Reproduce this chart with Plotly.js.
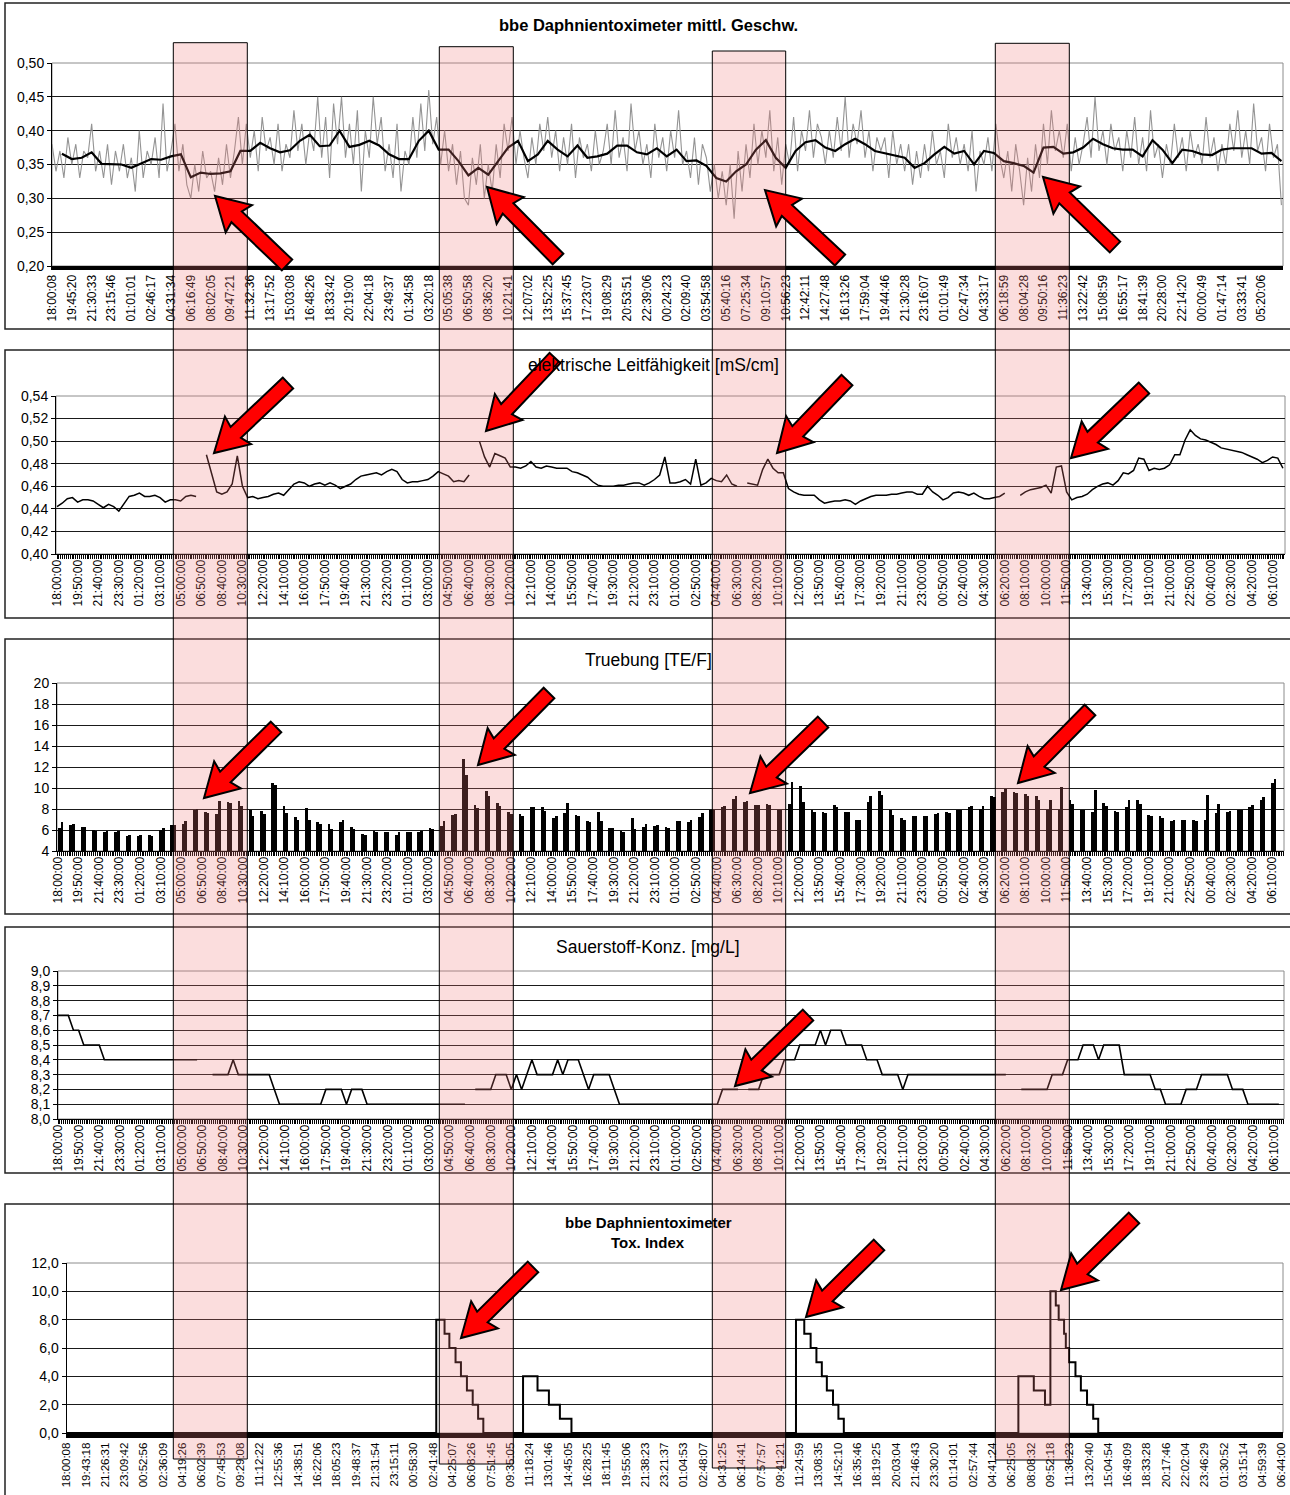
<!DOCTYPE html>
<html><head><meta charset="utf-8">
<script src="https://cdn.plot.ly/plotly-3.0.1.min.js"></script>
<style>html,body{margin:0;padding:0;background:#fff}#chart{width:1290px;height:1495px}</style>
</head><body><div id="chart"></div>
<script>
const W=1290,H=1495;
const FONT='Liberation Sans, Arial, sans-serif';

// ---- tick labels ----
const ticks1=["18:00:08","19:45:20","21:30:33","23:15:46","01:01:01","02:46:17","04:31:34","06:16:49","08:02:05","09:47:21","11:32:36","13:17:52","15:03:08","16:48:26","18:33:42","20:19:00","22:04:18","23:49:37","01:34:58","03:20:18","05:05:38","06:50:58","08:36:20","10:21:41","12:07:02","13:52:25","15:37:45","17:23:07","19:08:29","20:53:51","22:39:06","00:24:23","02:09:40","03:54:58","05:40:16","07:25:34","09:10:57","10:56:23","12:42:11","14:27:48","16:13:26","17:59:04","19:44:46","21:30:28","23:16:07","01:01:49","02:47:34","04:33:17","06:18:59","08:04:28","09:50:16","11:36:23","13:22:42","15:08:59","16:55:17","18:41:39","20:28:00","22:14:20","00:00:49","01:47:14","03:33:41","05:20:06"];
const ticks2=["18:00:00","19:50:00","21:40:00","23:30:00","01:20:00","03:10:00","05:00:00","06:50:00","08:40:00","10:30:00","12:20:00","14:10:00","16:00:00","17:50:00","19:40:00","21:30:00","23:20:00","01:10:00","03:00:00","04:50:00","06:40:00","08:30:00","10:20:00","12:10:00","14:00:00","15:50:00","17:40:00","19:30:00","21:20:00","23:10:00","01:00:00","02:50:00","04:40:00","06:30:00","08:20:00","10:10:00","12:00:00","13:50:00","15:40:00","17:30:00","19:20:00","21:10:00","23:00:00","00:50:00","02:40:00","04:30:00","06:20:00","08:10:00","10:00:00","11:50:00","13:40:00","15:30:00","17:20:00","19:10:00","21:00:00","22:50:00","00:40:00","02:30:00","04:20:00","06:10:00"];
const ticks5=["18:00:08","19:43:18","21:26:31","23:09:42","00:52:56","02:36:09","04:19:26","06:02:39","07:45:53","09:29:08","11:12:22","12:55:36","14:38:51","16:22:06","18:05:23","19:48:37","21:31:54","23:15:11","00:58:30","02:41:48","04:25:07","06:08:26","07:51:45","09:35:05","11:18:24","13:01:46","14:45:05","16:28:25","18:11:45","19:55:06","21:38:23","23:21:37","01:04:53","02:48:07","04:31:25","06:14:41","07:57:57","09:41:21","11:24:59","13:08:35","14:52:10","16:35:46","18:19:25","20:03:04","21:46:43","23:30:20","01:14:01","02:57:44","04:41:24","06:25:05","08:08:32","09:52:18","11:36:23","13:20:40","15:04:54","16:49:09","18:33:28","20:17:46","22:02:04","23:46:29","01:30:52","03:15:14","04:59:39","06:44:00"];

// ---- panel 1: mean speed, raw (5 samples per tick label) ----
const speedRaw=[
.38,.34,.37,.33,.39, .35,.38,.33,.37,.36, .41,.34,.37,.33,.38, .32,.37,.34,.38,.33, .36,.31,.40,.33,.37,
.35,.39,.33,.44,.34, .37,.41,.34,.38,.32, .30,.35,.31,.37,.33, .34,.31,.36,.32,.38, .33,.37,.42,.35,.41,
.36,.40,.34,.42,.37, .39,.35,.41,.34,.38, .36,.43,.37,.41,.35, .40,.37,.45,.36,.42, .33,.44,.38,.45,.36,
.41,.35,.43,.31,.40, .36,.45,.38,.42,.34, .38,.33,.41,.31,.37, .35,.42,.36,.44,.37, .46,.38,.42,.35,.40,
.34,.38,.32,.37,.30, .29,.36,.32,.38,.30, .35,.31,.38,.33,.41, .37,.42,.35,.40,.36, .33,.39,.35,.41,.37,
.42,.36,.40,.34,.39, .35,.41,.33,.39,.36, .38,.34,.40,.35,.37, .41,.35,.43,.36,.39, .34,.44,.37,.40,.35,
.38,.33,.41,.36,.39, .34,.40,.36,.43,.35, .37,.33,.39,.32,.38, .36,.31,.35,.30,.34, .29,.35,.27,.37,.31,
.38,.33,.41,.35,.40, .36,.43,.34,.39,.32, .38,.35,.42,.34,.40, .37,.43,.36,.41,.39, .35,.40,.36,.42,.37,
.45,.36,.41,.38,.43, .36,.40,.34,.39,.37, .39,.33,.40,.35,.38, .34,.38,.32,.37,.33, .38,.34,.40,.35,.37,
.33,.41,.36,.39,.35, .38,.34,.40,.31,.37, .35,.39,.34,.41,.36, .33,.37,.31,.38,.34, .29,.36,.31,.38,.33,
.41,.35,.43,.37,.40, .36,.41,.34,.39,.35, .38,.42,.36,.45,.37, .40,.35,.41,.37,.39, .34,.40,.36,.42,.35,
.39,.34,.43,.36,.38, .33,.38,.35,.41,.36, .39,.34,.40,.36,.38, .35,.42,.36,.39,.34, .38,.35,.41,.37,.43,
.36,.40,.35,.44,.37, .39,.34,.41,.36,.38, .29];
// moving average, every half label starting at the first half label
const speedAvg=[
.366,.358,.360,.368,.351,.351,.350,.345,.352,.358,
.357,.362,.365,.331,.338,.336,.337,.340,.370,.370,
.382,.374,.368,.371,.385,.394,.377,.378,.400,.376,
.379,.385,.378,.365,.358,.358,.385,.400,.372,.372,
.355,.334,.345,.335,.355,.375,.385,.355,.365,.385,
.372,.362,.378,.360,.362,.366,.378,.378,.368,.365,
.374,.362,.372,.355,.356,.348,.330,.325,.340,.350,
.372,.386,.360,.345,.370,.383,.386,.375,.370,.380,
.388,.380,.370,.367,.364,.360,.345,.352,.365,.376,
.366,.370,.350,.370,.367,.355,.352,.348,.338,.375,
.376,.366,.368,.375,.388,.380,.374,.372,.372,.362,
.386,.372,.352,.372,.370,.365,.364,.372,.374,.374,
.374,.366,.367,.355];

// ---- panel 2: conductivity (4 samples per tick label) ----
const cond=[
.442,.445,.449,.450,.446,.448,.448,.447,
.444,.441,.444,.442,.438,.444,.451,.452,
.454,.451,.451,.452,.450,.446,.448,.448,
.447,.451,.452,.451,null,.488,.472,.455,
.453,.455,.462,.487,.460,.450,.451,.449,
.450,.451,.453,.454,.452,.457,.462,.464,
.463,.460,.462,.463,.461,.463,.461,.458,
.460,.462,.466,.469,.470,.471,.472,.470,
.473,.475,.473,.466,.463,.464,.464,.465,
.466,.469,.473,.471,.469,.464,.465,.464,
.470,null,.500,.486,.477,.489,.487,.485,
.477,.477,.476,.478,.482,.477,.476,.478,
.477,.476,.476,.476,.473,.472,.470,.468,
.464,.461,.460,.460,.460,.461,.461,.462,
.463,.463,.461,.463,.466,.470,.486,.463,
.463,.464,.466,.462,.484,.461,.463,.467,
.465,.464,.470,.462,.460,null,.463,.462,
.461,.475,.484,.476,.472,.472,.458,.455,
.453,.452,.452,.452,.448,.445,.446,.447,
.447,.448,.447,.444,.447,.449,.451,.452,
.452,.452,.453,.453,.454,.455,.455,.453,
.453,.460,.455,.452,.448,.450,.454,.455,
.454,.452,.454,.451,.449,.449,.450,.451,
.454,null,null,.452,.455,.457,.458,.459,
.461,.454,.477,.478,.455,.448,.450,.451,
.453,.457,.460,.462,.463,.461,.465,.472,
.471,.474,.485,.484,.474,.476,.475,.476,
.479,.488,.488,.501,.510,.505,.502,.501,
.499,.497,.494,.493,.492,.491,.490,.488,
.486,.484,.481,.483,.486,.485,.476];

// ---- panel 3: turbidity, hourly pairs of readings ----
const turbA=[6.2,6.5,6.3,6.0,5.8,5.8,5.4,5.4,5.5,6.0, 6.5,6.6,7.9,7.7,7.5,8.7,8.8,7.9,7.8,10.5,
8.3,7.2,8.1,6.8,6.6,6.8,6.3,5.6,5.9,5.8, 5.5,5.8,5.8,6.2,6.4,7.4,12.8,8.4,9.7,8.6,
7.7,7.5,8.2,8.2,7.1,7.6,7.4,6.9,7.7,6.2, 5.9,7.1,6.3,6.4,6.3,6.9,6.8,7.2,7.9,8.2,
9.0,8.7,8.4,8.5,7.9,8.5,10.2,7.9,7.7,8.4, 7.7,7.0,8.7,9.7,7.9,7.1,7.3,7.3,7.5,7.7,
7.9,8.2,8.0,9.2,9.6,9.6,9.4,9.2,7.9,7.9, 8.9,7.9,7.7,8.6,7.8,8.2,8.9,7.4,7.3,6.9,
7.0,7.0,7.0,7.6,7.7,7.9,8.2,8.9,10.5];
const turbB=[6.8,6.6,6.3,5.9,5.9,5.9,5.5,5.5,5.4,6.2, 6.5,6.9,8.0,7.6,8.8,8.6,8.3,7.3,7.5,10.3,
7.6,7.0,7.0,6.6,6.1,7.0,6.1,5.5,5.8,5.8, 5.8,5.8,5.9,6.1,6.9,7.5,11.2,8.1,9.2,8.3,
7.5,7.3,8.2,7.8,7.3,8.6,7.3,6.8,6.9,6.2, 5.8,6.1,6.6,6.5,6.2,6.9,7.0,7.6,7.9,8.3,
9.2,8.8,8.4,8.4,7.9,10.6,8.7,7.7,7.6,8.2, 7.7,7.0,9.2,9.3,7.4,7.0,7.3,7.3,7.6,7.6,
7.9,8.3,8.3,9.1,9.9,9.5,9.2,8.9,8.9,10.1, 8.5,7.9,9.8,8.3,7.7,8.9,8.5,7.3,7.1,7.0,
7.0,6.9,9.3,8.5,7.8,7.9,8.4,9.1,10.9];

// ---- panel 4: oxygen (4 samples per tick label) ----
const oxy=[
8.7,8.7,8.7,8.6,8.6,8.5,8.5,8.5,8.5,
8.4,8.4,8.4,8.4,8.4,8.4,8.4,8.4,8.4,8.4,8.4,8.4,8.4,8.4,8.4,8.4,8.4,8.4,8.4,
null,null,8.3,8.3,8.3,8.3,8.4,8.3,8.3,8.3,8.3,8.3,8.3,8.3,8.2,
8.1,8.1,8.1,8.1,8.1,8.1,8.1,8.1,8.1,8.2,8.2,8.2,8.2,8.1,8.2,8.2,8.2,
8.1,8.1,8.1,8.1,8.1,8.1,8.1,8.1,8.1,8.1,8.1,8.1,8.1,8.1,8.1,8.1,8.1,8.1,8.1,8.1,
null,8.2,8.2,8.2,8.2,8.3,8.3,8.3,8.2,8.3,8.2,8.3,8.4,8.3,8.3,8.3,8.3,8.4,8.3,8.4,8.4,8.4,8.3,8.2,
8.3,8.3,8.3,8.3,8.2,
8.1,8.1,8.1,8.1,8.1,8.1,8.1,8.1,8.1,8.1,8.1,8.1,8.1,8.1,8.1,8.1,8.1,8.1,8.1,8.1,
8.2,8.2,8.2,8.2,null,8.2,8.2,8.2,8.3,8.3,8.3,8.3,8.4,8.4,8.4,8.5,8.5,8.5,8.5,8.6,8.5,8.6,8.6,8.6,
8.5,8.5,8.5,8.5,8.4,8.4,8.4,8.3,8.3,8.3,8.3,8.2,
8.3,8.3,8.3,8.3,8.3,8.3,8.3,8.3,8.3,8.3,8.3,8.3,8.3,8.3,8.3,8.3,8.3,8.3,8.3,8.3,
null,null,8.2,8.2,8.2,8.2,8.2,8.2,8.3,8.3,8.3,8.4,8.4,8.4,8.5,8.5,8.5,8.4,8.5,8.5,8.5,8.5,
8.3,8.3,8.3,8.3,8.3,8.3,8.2,8.2,8.1,8.1,8.1,8.1,8.2,8.2,8.2,8.3,8.3,8.3,8.3,8.3,8.3,
8.2,8.2,8.2,8.1,8.1,8.1,8.1,8.1,8.1,8.1];

// ---- panel 5: tox index, step changes (time in tick-label units) ----
const toxT=[0,19.17,19.6,19.85,20.17,20.45,20.76,21.06,21.34,21.61,23.67,24.42,25.01,25.58,26.18,
37.82,38.25,38.58,38.88,39.16,39.42,39.74,40.02,40.30,
49.35,50.15,50.73,51.01,51.29,51.44,51.72,51.81,51.98,52.31,52.59,52.91,53.23,53.49,63.1];
const toxV=[0,8,7,6,5,4,3,2,1,0,4,3,2,1,0, 8,7,6,5,4,3,2,1,0, 4,3,2,10,9,8,7,6,5,4,3,2,1,0,0];

// ---------- helpers ----------
const PX=x=>x/W, PY=y=>1-y/H;
const xd=(l,r)=>[PX(l),PX(r)];
const yd=(t,b)=>[PY(b),PY(t)];
const idx=(arr,step,off)=>arr.map((_,i)=>(off||0)+i*step);

const turbX=[],turbY=[];
turbA.forEach((v,k)=>{turbX.push(0.08+k*6/11);turbY.push(v);turbX.push(0.08+k*6/11+0.13);turbY.push(turbB[k]);});

const traces=[
 {x:idx(speedRaw,0.2),y:speedRaw,xaxis:'x',yaxis:'y',mode:'lines',line:{color:'#949494',width:1.1}},
 {x:idx(speedAvg,0.5,0.5),y:speedAvg,xaxis:'x',yaxis:'y',mode:'lines',line:{color:'#000',width:2.2}},
 {x:idx(cond,0.25),y:cond,xaxis:'x2',yaxis:'y2',mode:'lines',line:{color:'#000',width:1.5}},
 {type:'bar',x:turbX,y:turbY,width:0.13,xaxis:'x3',yaxis:'y3',marker:{color:'#000',line:{width:0}}},
 {x:idx(oxy,0.25),y:oxy,xaxis:'x4',yaxis:'y4',mode:'lines',line:{color:'#000',width:1.6}},
 {x:toxT,y:toxV,xaxis:'x5',yaxis:'y5',mode:'lines',line:{color:'#000',width:2,shape:'hv'}}
];

function xax(dom,labels,range,anchor,opts){
  return Object.assign({domain:dom,anchor:anchor,range:range,tickmode:'array',
    tickvals:labels.map((_,i)=>i),ticktext:labels,tickangle:-90,
    tickfont:{family:FONT,size:12,color:'#000'},showgrid:false,zeroline:false,
    showline:true,linecolor:'#000',linewidth:1,ticks:'',automargin:false,fixedrange:true},opts||{});
}
function yax(dom,range,dtick,fmt,anchor){
  return {domain:dom,anchor:anchor,range:range,dtick:dtick,tick0:range[0],tickformat:fmt,
    showgrid:true,gridcolor:'#1a1a1a',gridwidth:1,zeroline:false,showline:true,linecolor:'#000',
    linewidth:1,ticks:'outside',ticklen:4,tickcolor:'#000',
    tickfont:{family:FONT,size:14,color:'#000'},automargin:false,fixedrange:true};
}
const minorT={tickmode:'linear',tick0:0,dtick:1/11,ticks:'outside',ticklen:4,tickcolor:'#000',tickwidth:1,showgrid:false};

const layout={
 width:W,height:H,margin:{l:0,r:0,t:0,b:0},paper_bgcolor:'#fff',plot_bgcolor:'rgba(0,0,0,0)',
 showlegend:false,hovermode:false,separators:',.',barmode:'overlay',bargap:0,
 font:{family:FONT,color:'#000'},
 xaxis: xax(xd(52,1283),ticks1,[0,62.08],'y',{linewidth:4}),
 yaxis: yax(yd(63,266),[0.2,0.5],0.05,'.2f','x'),
 xaxis2:xax(xd(56,1285),ticks2,[-0.05,59.6],'y2',{minor:minorT}),
 yaxis2:yax(yd(396,554),[0.40,0.54],0.02,'.2f','x2'),
 xaxis3:xax(xd(57,1284),ticks2,[-0.04,59.56],'y3',{minor:minorT}),
 yaxis3:yax(yd(683,851),[4,20],2,'d','x3'),
 xaxis4:xax(xd(58,1284),ticks2,[0,59.5],'y4',{minor:minorT}),
 yaxis4:yax(yd(971,1119),[8,9],0.1,'.1f','x4'),
 xaxis5:xax(xd(66.5,1283),ticks5,[0,63.07],'y5',{linewidth:5,tickfont:{family:FONT,size:11.5,color:'#000'}}),
 yaxis5:yax(yd(1263,1433),[0,12],2,'.1f','x5'),
 shapes:[],annotations:[]
};

// plot-area frames (grey)
['','2','3','4','5'].forEach(n=>{
  layout.shapes.push({type:'rect',xref:'x'+n+' domain',yref:'y'+n+' domain',x0:0,x1:1,y0:0,y1:1,
    line:{color:'#8c8c8c',width:1},layer:'below'});
});
// panel boxes
[[3,329],[350,618],[639,914],[927,1173],[1204,1500]].forEach(b=>{
  layout.shapes.push({type:'rect',xref:'paper',yref:'paper',x0:PX(5),x1:PX(1295),y0:PY(b[1]),y1:PY(b[0]),
    line:{color:'#222',width:1.5},fillcolor:'rgba(0,0,0,0)'});
});
// highlighted periods
[[173.3,247.3,42.7,1459],[439.3,513.3,46.7,1464],[712.3,785.7,51,1468],[995.3,1069.3,43.3,1460]].forEach(b=>{
  layout.shapes.push({type:'rect',xref:'paper',yref:'paper',x0:PX(b[0]),x1:PX(b[1]),y0:PY(b[3]),y1:PY(b[2]),
    fillcolor:'rgba(240,120,120,0.25)',line:{color:'#000',width:1},layer:'above'});
});
// red block arrows: [tipX,tipY,tailX,tailY]
const arrows=[
 [215,196,287,265],[487,187,558,259],[765,190,840,260],[1043,177,1115,247],
 [214,453,288,383],[486,431,555,358],[777,453,847,380],[1071,458,1144,388],
 [204,798,276,727],[478,765,549,693],[750,793,823,722],[1018,783,1090,710],
 [735,1086,808,1015],
 [461,1338,533,1267],[806,1317,879,1245],[1061,1290,1134,1218]
];
arrows.forEach(a=>{
  const [tx,ty,sx,sy]=a;const dx=tx-sx,dy=ty-sy,L=Math.hypot(dx,dy),ux=dx/L,uy=dy/L,nx=-uy,ny=ux;
  const hl=30,hw=19,sw=7.5,bx=tx-ux*hl,by=ty-uy*hl;
  const pts=[[sx+nx*sw,sy+ny*sw],[bx+nx*sw,by+ny*sw],[bx+nx*hw-ux*3,by+ny*hw-uy*3],[tx,ty],
             [bx-nx*hw-ux*3,by-ny*hw-uy*3],[bx-nx*sw,by-ny*sw],[sx-nx*sw,sy-ny*sw]];
  layout.shapes.push({type:'path',xref:'paper',yref:'paper',
    path:'M'+pts.map(p=>PX(p[0]).toFixed(5)+','+PY(p[1]).toFixed(5)).join('L')+'Z',
    fillcolor:'#ff0000',line:{color:'#000',width:2},layer:'above'});
});
// titles
const titles=[
 ['<b>bbe Daphnientoximeter mittl. Geschw.</b>',648,25,16.5],
 ['elektrische Leitfähigkeit [mS/cm]',653,365,17.5],
 ['Truebung [TE/F]',648,660,17.5],
 ['Sauerstoff-Konz. [mg/L]',648,947,17.5],
 ['<b>bbe Daphnientoximeter</b>',648,1222,15],
 ['<b>Tox. Index</b>',648,1242,15]
];
titles.forEach(t=>layout.annotations.push({text:t[0],x:PX(t[1]),y:PY(t[2]),xref:'paper',yref:'paper',
  showarrow:false,xanchor:'center',yanchor:'middle',font:{family:FONT,size:t[3],color:'#000'}}));

Plotly.newPlot('chart',traces,layout,{staticPlot:true,displayModeBar:false});
</script></body></html>
